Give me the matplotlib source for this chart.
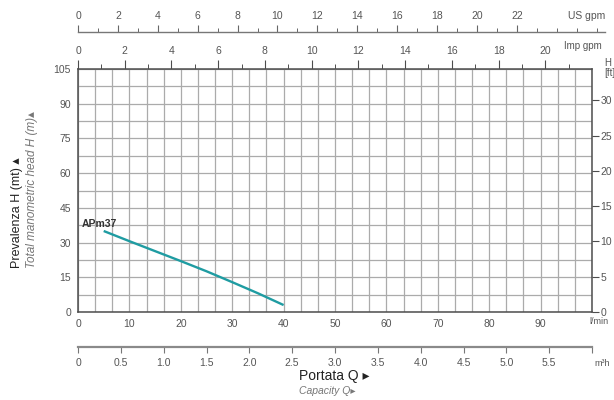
import matplotlib.pyplot as plt
from matplotlib.ticker import MultipleLocator

plt.rcParams['font.family'] = ['Liberation Sans', 'DejaVu Sans']

# pump curve APm37 (flow in l/min, head in m)
pump_name = "APm37"
flow_lmin = [5, 10, 15, 20, 25, 30, 35, 40]
head_m = [35.0, 30.6, 26.3, 22.0, 17.6, 12.9, 8.1, 3.0]

# scales
lmin_ticks = [0, 10, 20, 30, 40, 50, 60, 70, 80, 90]
head_ticks = [0, 15, 30, 45, 60, 75, 90, 105]
ft_ticks = [0, 50, 100, 150, 200, 250, 300]
ft_labels = ["0", "5", "10", "15", "20", "25", "30"]   # as printed on the chart
m3h_ticks = [0, 0.5, 1.0, 1.5, 2.0, 2.5, 3.0, 3.5, 4.0, 4.5, 5.0, 5.5, 6.0]
m3h_labels = ["0", "0.5", "1.0", "1.5", "2.0", "2.5", "3.0", "3.5", "4.0",
              "4.5", "5.0", "5.5", ""]
us_gpm_ticks = [0, 2, 4, 6, 8, 10, 12, 14, 16, 18, 20, 22]
imp_gpm_ticks = [0, 2, 4, 6, 8, 10, 12, 14, 16, 18, 20]

LMIN_PER_USGPM = 3.785
LMIN_PER_IMPGPM = 4.546
M_PER_FT = 0.3048

W, H = 614, 400
TICKC = '#555555'
LINEC = '#4d4d4d'
TOP = 69


def box(x0, y0, x1, y1):
    # pixel box (top-left origin) -> figure fraction rect
    return [x0 / W, 1 - y1 / H, (x1 - x0) / W, (y1 - y0) / H]


def pt(x, y):
    return x / W, 1 - y / H


fig = plt.figure(figsize=(6.14, 4.0), dpi=100)
ax = fig.add_axes(box(78, TOP, 592, 312))

ax.plot(flow_lmin, head_m, color='#1f9ca2', lw=1.7, solid_capstyle='butt')
ax.text(0.8, 35.8, pump_name, fontsize=7.5, fontweight='bold', color='#333333',
        ha='left', va='bottom')

ax.set_xlim(0, 100)
ax.set_ylim(0, 105)
ax.set_xticks(lmin_ticks)
ax.set_yticks(head_ticks)
ax.xaxis.set_minor_locator(MultipleLocator(10 / 3))
ax.yaxis.set_minor_locator(MultipleLocator(7.5))
ax.grid(which='both', color='#ababab', lw=0.9)
ax.set_axisbelow(True)
ax.tick_params(which='both', length=0)
ax.tick_params(axis='x', pad=5, labelsize=7.5, labelcolor=TICKC)
ax.tick_params(axis='y', pad=5, labelsize=7.5, labelcolor=TICKC)
for s in ax.spines.values():
    s.set_color(LINEC)
    s.set_linewidth(1.1)

# imperial gpm on top of the plot
imp = ax.secondary_xaxis('top', functions=(lambda q: q / LMIN_PER_IMPGPM,
                                           lambda g: g * LMIN_PER_IMPGPM))
imp.set_xticks(imp_gpm_ticks)
imp.xaxis.set_minor_locator(MultipleLocator(1))
imp.tick_params(which='major', direction='out', length=6.5, width=0.8, color=LINEC,
                labelsize=7.5, labelcolor=TICKC, pad=2.5)
imp.tick_params(which='minor', direction='out', length=3.5, width=0.7, color=LINEC)
imp.spines['top'].set_visible(False)

# US gpm scale line above
us = fig.add_axes(box(78, 32, 605, 32.01))
us.set_xlim(0, 100 / LMIN_PER_USGPM)
us.set_yticks([])
for k in ['left', 'right', 'bottom']:
    us.spines[k].set_visible(False)
us.spines['top'].set_color('#777777')
us.spines['top'].set_linewidth(1.0)
us.xaxis.tick_top()
us.set_xticks(us_gpm_ticks)
us.xaxis.set_minor_locator(MultipleLocator(1))
us.tick_params(which='major', direction='out', length=5, width=0.8, color='#666666',
               labelsize=7.5, labelcolor=TICKC, pad=3)
us.tick_params(which='minor', direction='out', length=3, width=0.7, color='#666666')
us.patch.set_visible(False)

# m3/h scale below
m3 = ax.secondary_xaxis(-35 / 243, functions=(lambda q: q * 0.06, lambda v: v / 0.06))
m3.set_xticks(m3h_ticks, m3h_labels)
m3.tick_params(direction='out', length=4, width=0.8, color='#777777',
               labelsize=7.5, labelcolor=TICKC, pad=4)
m3.spines['bottom'].set_color('#8a8a8a')
m3.spines['bottom'].set_linewidth(1.6)

# feet on the right
ft = ax.secondary_yaxis('right', functions=(lambda m: m / M_PER_FT,
                                            lambda f: f * M_PER_FT))
ft.set_yticks(ft_ticks, ft_labels)
ft.tick_params(direction='out', length=5, width=0.8, color=LINEC,
               labelsize=7.5, labelcolor=TICKC, pad=1)
ft.spines['right'].set_visible(False)

# unit labels
fig.text(*pt(587, 16), "US gpm", fontsize=7.5, color=TICKC, ha='center', va='center')
fig.text(*pt(583, 46), "Imp gpm", fontsize=7, color=TICKC, ha='center', va='center')
fig.text(*pt(604, 58), "H\n[ft]", fontsize=7, color=TICKC, ha='left', va='top',
         linespacing=0.95)
fig.text(*pt(589, 322), "l/min", fontsize=6.5, color=TICKC, ha='left', va='center')
fig.text(*pt(594, 364), "m³h", fontsize=6.5, color=TICKC, ha='left', va='center')

# axis titles
fig.text(*pt(299, 376), "Portata Q \u25b8", fontsize=10, color='#222222',
         ha='left', va='center')
fig.text(*pt(299, 391), "Capacity Q\u25b8", fontsize=7.5, color='#777777',
         style='italic', ha='left', va='center')
fig.text(*pt(17, 268), "Prevalenza H (mt) \u25b4", fontsize=9, color='#222222',
         rotation=90, ha='center', va='bottom')
fig.text(*pt(32, 268), "Total manometric head H (m)\u25b4", fontsize=8.5,
         color='#777777', style='italic', rotation=90, ha='center', va='bottom')

fig.savefig('out.png', dpi=100)
